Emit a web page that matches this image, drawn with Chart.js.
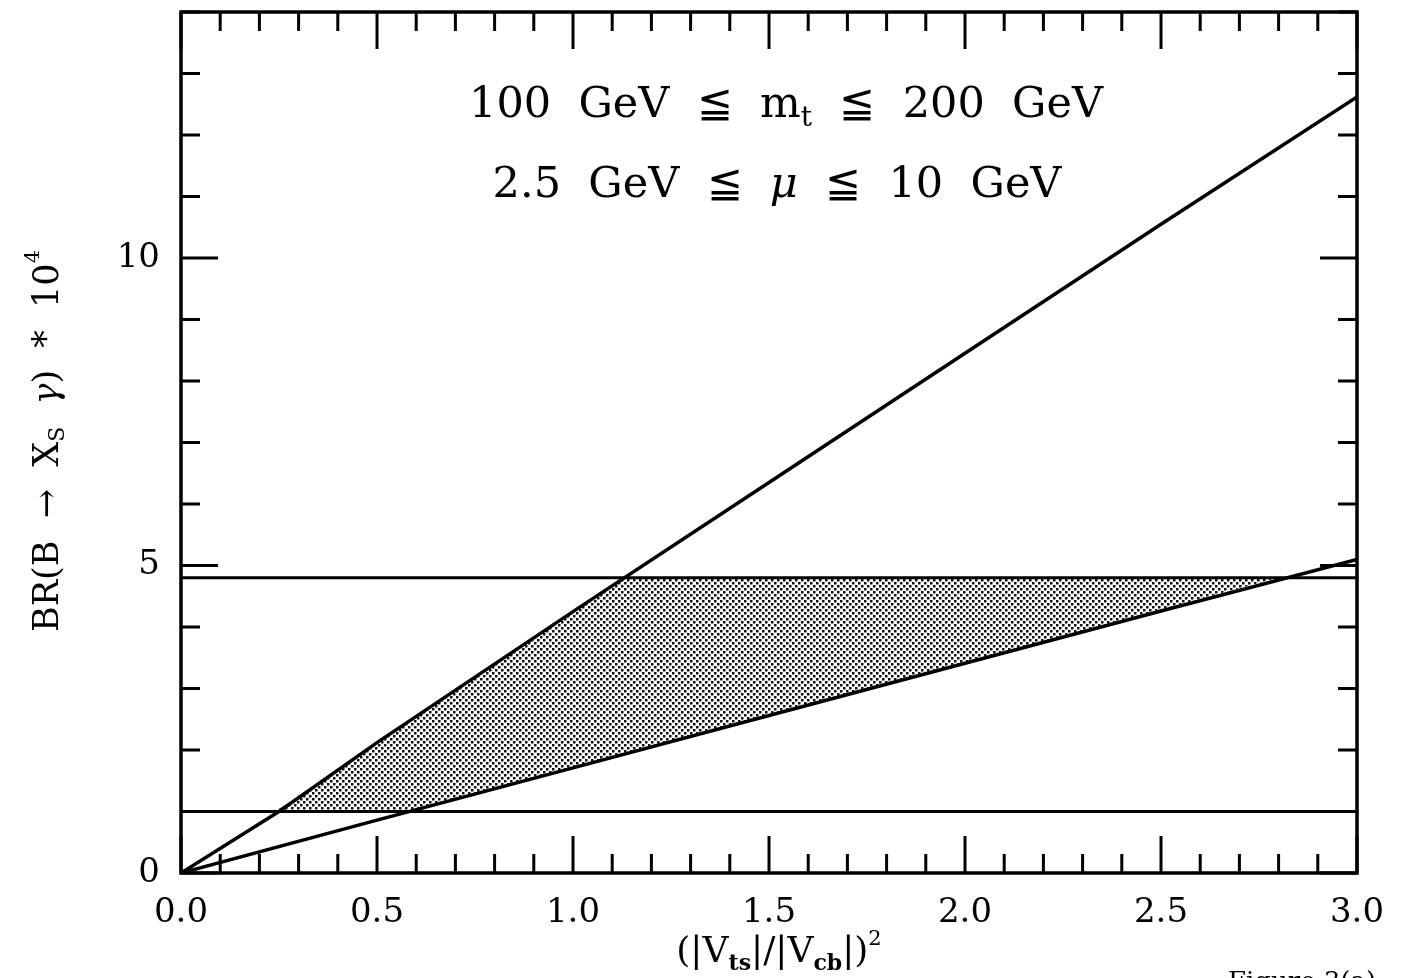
<!DOCTYPE html>
<html>
<head>
<meta charset="utf-8">
<script src="https://cdn.jsdelivr.net/npm/chart.js@4/dist/chart.umd.min.js"></script>
<style>
html, body { margin: 0; padding: 0; background: #fff; }
#wrap { width: 1401px; height: 978px; }
</style>
</head>
<body>
<div id="wrap"><canvas id="brChart" width="1401" height="978"></canvas></div>
<script>
// values
var upperX = [0, 0.25, 0.5, 1.0, 1.5, 2.0, 2.5, 3.0];
var upperY = [0, 1.0, 2.12, 4.25, 6.35, 8.45, 10.55, 12.62];
var lowerX = [0, 0.5, 1.0, 1.5, 2.0, 2.5, 3.0];
var lowerY = [0, 0.86, 1.71, 2.56, 3.41, 4.26, 5.1];
var expHigh = 4.8;   // upper experimental limit
var expLow = 1.0;    // lower experimental limit
// allowed region, as a closed outline
var bandX = [0.24, 1.13, 2.8, 0.58, 0.24];
var bandY = [1.0, 4.8, 4.8, 1.0, 1.0];
var xMajor = [0, 0.5, 1.0, 1.5, 2.0, 2.5, 3.0];
var yMajor = [0, 5, 10];

var SERIF = '"DejaVu Serif", "Liberation Serif", serif';

function pts(xs, ys) {
    return xs.map(function (x, i) { return { x: x, y: ys[i] }; });
}

// stipple for the allowed region
function stipple() {
    var c = document.createElement('canvas');
    c.width = 6; c.height = 6;
    var g = c.getContext('2d');
    g.fillStyle = '#fff';
    g.fillRect(0, 0, 6, 6);
    g.fillStyle = '#111';
    g.fillRect(0, 0, 2.5, 2.5);
    g.fillRect(3, 3, 2.5, 2.5);
    return g.createPattern(c, 'repeat');
}

function isMajor(v, list) {
    return list.some(function (m) { return Math.abs(m - v) < 1e-6; });
}

// draws a row of text pieces (sub/superscripts) centred on x
function drawRuns(ctx, runs, x, y) {
    var w = 0;
    runs.forEach(function (r) { ctx.font = r.font; w += ctx.measureText(r.t).width; });
    var cx = x - w / 2;
    ctx.textBaseline = 'alphabetic';
    ctx.textAlign = 'left';
    runs.forEach(function (r) {
        ctx.font = r.font;
        ctx.fillText(r.t, cx, y + (r.dy || 0));
        cx += ctx.measureText(r.t).width;
    });
}

var frame = {
    id: 'frame',
    afterDraw: function (chart) {
        var ctx = chart.ctx, a = chart.chartArea;
        var xs = chart.scales.x, ys = chart.scales.y;
        ctx.save();
        ctx.strokeStyle = '#000';
        ctx.fillStyle = '#000';
        ctx.lineWidth = 3.5;
        ctx.strokeRect(a.left, a.top, a.right - a.left, a.bottom - a.top);

        // inward ticks on all four sides
        ctx.lineWidth = 3;
        ctx.beginPath();
        xs.ticks.forEach(function (t) {
            var px = xs.getPixelForValue(t.value);
            var len = isMajor(t.value, xMajor) ? 37 : 19;
            ctx.moveTo(px, a.bottom); ctx.lineTo(px, a.bottom - len);
            ctx.moveTo(px, a.top); ctx.lineTo(px, a.top + len);
        });
        ys.ticks.forEach(function (t) {
            var py = ys.getPixelForValue(t.value);
            var len = isMajor(t.value, yMajor) ? 37 : 19;
            ctx.moveTo(a.left, py); ctx.lineTo(a.left + len, py);
            ctx.moveTo(a.right, py); ctx.lineTo(a.right - len, py);
        });
        ctx.stroke();

        // annotations
        var f43 = '43px ' + SERIF;
        drawRuns(ctx, [
            { t: '100  GeV  \u2266  m', font: f43 },
            { t: 't', font: '28px ' + SERIF, dy: 9 },
            { t: '  \u2266  200  GeV', font: f43 }
        ], 786, 117);
        drawRuns(ctx, [
            { t: '2.5  GeV  \u2266  ', font: f43 },
            { t: '\u03bc', font: 'italic ' + f43 },
            { t: '  \u2266  10  GeV', font: f43 }
        ], 777, 197);

        // x title
        var f36 = '36px ' + SERIF, fsub = 'bold 22px ' + SERIF;
        drawRuns(ctx, [
            { t: '(|V', font: f36 },
            { t: 'ts', font: fsub, dy: 8 },
            { t: '|/|V', font: f36 },
            { t: 'cb', font: fsub, dy: 8 },
            { t: '|)', font: f36 },
            { t: '2', font: '21px ' + SERIF, dy: -17 }
        ], 779, 962);

        // y title, rotated
        ctx.save();
        ctx.translate(58, 441);
        ctx.rotate(-Math.PI / 2);
        var f35 = '35px ' + SERIF;
        drawRuns(ctx, [
            { t: 'BR(B  \u2192  X', font: f35 },
            { t: 'S', font: '22px ' + SERIF, dy: 6 },
            { t: '  ', font: f35 },
            { t: '\u03b3', font: 'italic ' + f35 },
            { t: ')  *  10', font: f35 },
            { t: '4', font: '21px ' + SERIF, dy: -19 }
        ], 0, 0);
        ctx.restore();

        ctx.font = '26px ' + SERIF;
        ctx.textAlign = 'left';
        ctx.fillText('Figure 3(a)', 1228, 990);
        ctx.restore();
    }
};

var pattern = stipple();

new Chart(document.getElementById('brChart').getContext('2d'), {
    type: 'line',
    data: {
        datasets: [{
            label: 'upper',
            data: pts(upperX, upperY),
            borderColor: '#000',
            borderWidth: 3.5,
            pointRadius: 0,
            fill: false
        }, {
            label: 'lower',
            data: pts(lowerX, lowerY),
            borderColor: '#000',
            borderWidth: 3.5,
            pointRadius: 0,
            fill: false
        }, {
            label: 'exp high',
            data: [{ x: 0, y: expHigh }, { x: 3, y: expHigh }],
            borderColor: '#000',
            borderWidth: 3,
            pointRadius: 0,
            fill: false
        }, {
            label: 'exp low',
            data: [{ x: 0, y: expLow }, { x: 3, y: expLow }],
            borderColor: '#000',
            borderWidth: 3,
            pointRadius: 0,
            fill: false
        }, {
            label: 'allowed',
            data: pts(bandX, bandY),
            borderColor: 'rgba(0,0,0,0)',
            backgroundColor: pattern,
            pointRadius: 0,
            fill: 'shape'
        }]
    },
    options: {
        responsive: false,
        animation: false,
        layout: { padding: { left: 0, top: 12, right: 44, bottom: 0 } },
        plugins: {
            legend: { display: false },
            tooltip: { enabled: false }
        },
        scales: {
            x: {
                type: 'linear',
                min: 0,
                max: 3,
                grid: { display: false },
                border: { display: false },
                afterFit: function (s) { s.height = 105; s.paddingLeft = 0; s.paddingRight = 0; },
                ticks: {
                    stepSize: 0.1,
                    autoSkip: false,
                    maxRotation: 0,
                    padding: 12,
                    color: '#000',
                    font: { family: SERIF, size: 34 },
                    callback: function (v) { return isMajor(v, xMajor) ? v.toFixed(1) : ''; }
                }
            },
            y: {
                min: 0,
                max: 14,
                grid: { display: false },
                border: { display: false },
                afterFit: function (s) { s.width = 181; s.paddingTop = 0; s.paddingBottom = 0; },
                ticks: {
                    stepSize: 1,
                    autoSkip: false,
                    padding: 13,
                    color: '#000',
                    font: { family: SERIF, size: 34 },
                    callback: function (v) { return isMajor(v, yMajor) ? String(v) : ''; }
                }
            }
        }
    },
    plugins: [frame]
});
</script>
</body>
</html>
